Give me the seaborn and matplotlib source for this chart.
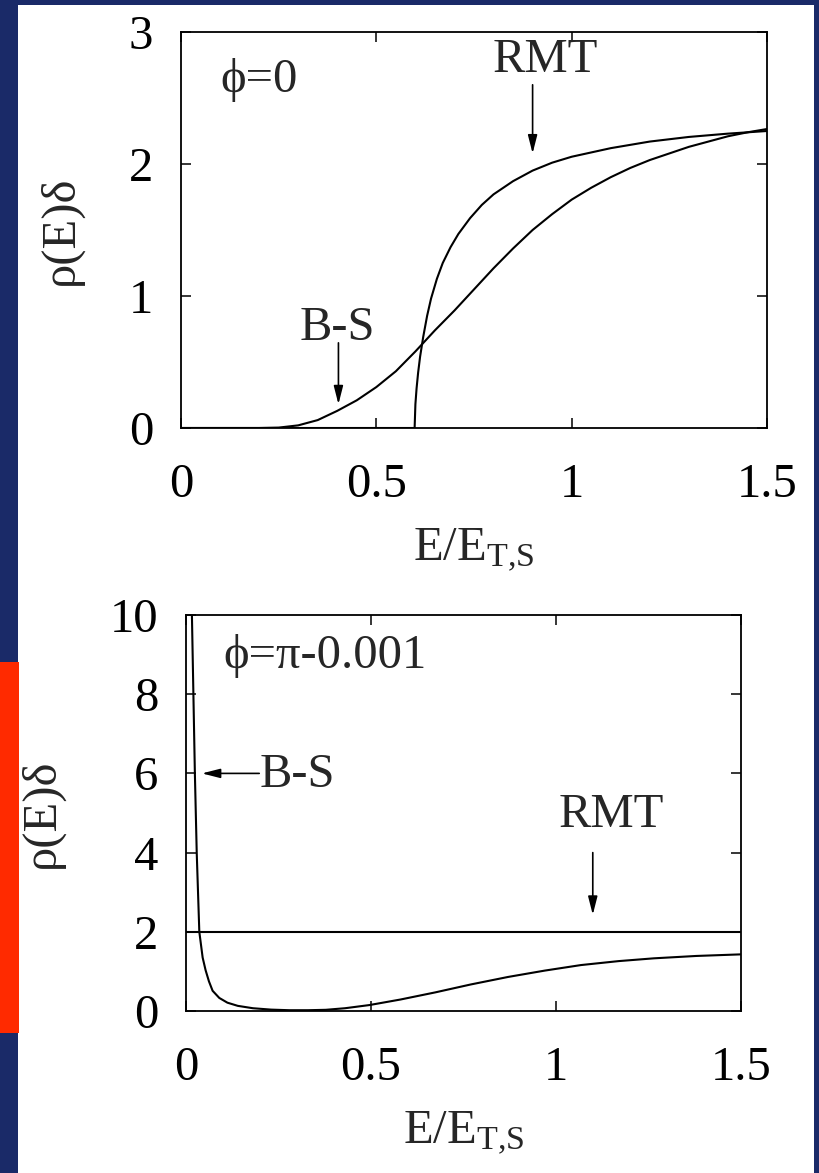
import numpy as np
import matplotlib
matplotlib.use("Agg")
import matplotlib.pyplot as plt
import matplotlib.patches as mpatches
import pandas as pd
import seaborn as sns

# phi = 0 panel, curves
top_bs_x = [0, 0.1, 0.2, 0.25, 0.3, 0.35, 0.4, 0.45, 0.5, 0.55, 0.6, 0.65, 0.7, 0.75,
            0.8, 0.85, 0.9, 0.95, 1.0, 1.05, 1.1, 1.15, 1.2, 1.25, 1.3, 1.35, 1.4, 1.45, 1.5]
top_bs_y = [0, 0, 0, 0.003, 0.02, 0.06, 0.13, 0.21, 0.31, 0.43, 0.58, 0.74, 0.89, 1.05,
            1.21, 1.36, 1.50, 1.62, 1.73, 1.82, 1.90, 1.97, 2.03, 2.08, 2.13, 2.17, 2.21, 2.24, 2.265]
top_rmt_x = [0, 0.598, 0.600, 0.603, 0.607, 0.612, 0.62, 0.63, 0.64, 0.655, 0.67, 0.69, 0.71,
             0.74, 0.77, 0.8, 0.85, 0.9, 0.95, 1.0, 1.1, 1.2, 1.3, 1.4, 1.5]
top_rmt_y = [0, 0, 0.18, 0.30, 0.42, 0.54, 0.69, 0.85, 0.98, 1.13, 1.25, 1.37, 1.47,
             1.59, 1.69, 1.77, 1.87, 1.95, 2.01, 2.055, 2.12, 2.17, 2.205, 2.23, 2.25]

# phi = pi - 0.001 panel
bot_bs_x = [0.016, 0.020, 0.024, 0.029, 0.036, 0.045, 0.053, 0.062, 0.072, 0.09, 0.112, 0.14,
            0.181, 0.23, 0.279, 0.33, 0.378, 0.43, 0.496, 0.58, 0.674, 0.77, 0.871, 0.97,
            1.068, 1.17, 1.265, 1.38, 1.5]
bot_bs_y = [10, 8.0, 6.0, 4.0, 2.0, 1.35, 1.03, 0.75, 0.51, 0.33, 0.21, 0.13,
            0.07, 0.035, 0.02, 0.02, 0.03, 0.07, 0.15, 0.29, 0.47, 0.67, 0.86, 1.02,
            1.16, 1.26, 1.33, 1.39, 1.43]
bot_rmt_x = [0, 1.5]
bot_rmt_y = [2, 2]

x_ticks = [0, 0.5, 1, 1.5]
x_ticklabels = ["0", "0.5", "1", "1.5"]
top_yticks = [0, 1, 2, 3]
bot_yticks = [0, 2, 4, 6, 8, 10]

sns.set_style("ticks")
plt.rcParams["font.family"] = ["Liberation Serif", "DejaVu Serif"]
plt.rcParams["mathtext.fontset"] = "custom"
plt.rcParams["mathtext.rm"] = "Liberation Serif"
plt.rcParams["mathtext.it"] = "Liberation Serif:italic"

FS = 35
BLUE = "#1a2a68"
RED = "#ff2a00"

fig = plt.figure(figsize=(8.19, 11.73), dpi=100)
fig.patch.set_facecolor(BLUE)
fig.patches.append(mpatches.Rectangle((18 / 819, 0), (814 - 18) / 819, (1173 - 5) / 1173,
                                      transform=fig.transFigure, facecolor="white",
                                      edgecolor="none", zorder=-3))
fig.patches.append(mpatches.Rectangle((0, 1 - 1033 / 1173), 19 / 819, (1033 - 662) / 1173,
                                      transform=fig.transFigure, facecolor=RED,
                                      edgecolor="none", zorder=-2))

ax1 = fig.add_axes([181 / 819, 1 - 428 / 1173, (767 - 181) / 819, 396 / 1173])
ax2 = fig.add_axes([186 / 819, 1 - 1011 / 1173, (740.7 - 186) / 819, 396 / 1173])

line_kw = dict(color="black", lw=1.5, estimator=None, sort=False)
sns.lineplot(x=top_bs_x, y=top_bs_y, ax=ax1, **line_kw)
sns.lineplot(x=top_rmt_x, y=top_rmt_y, ax=ax1, **line_kw)
sns.lineplot(x=bot_bs_x, y=bot_bs_y, ax=ax2, **line_kw)
sns.lineplot(x=bot_rmt_x, y=bot_rmt_y, ax=ax2, **line_kw)

arrow = dict(arrowstyle="-|>,head_length=1.1,head_width=0.28", color="black", lw=1.2,
             shrinkA=0, shrinkB=0)

for ax, yt, ylim in [(ax1, top_yticks, (0, 3)), (ax2, bot_yticks, (0, 10))]:
    ax.set_facecolor("white")
    ax.set_xlim(0, 1.5)
    ax.set_ylim(*ylim)
    ax.set_xticks(x_ticks)
    ax.set_xticklabels(x_ticklabels)
    ax.set_yticks(yt)
    ax.tick_params(direction="in", length=7, width=1.1, top=True, right=True,
                   labelsize=FS, colors="black")
    ax.tick_params(axis="x", pad=25)
    ax.tick_params(axis="y", pad=20)
    for s in ax.spines.values():
        s.set_linewidth(1.3)
        s.set_color("black")
    ax.set_xlabel(r"E/E$_{\mathrm{T{,}S}}$", fontsize=FS, labelpad=14)
    ax.set_ylabel("ρ(E)δ", fontsize=FS, labelpad=33)

# annotations, top panel
ax1.text(0.1, 2.64, "ϕ=0", fontsize=FS, va="center", ha="left")
ax1.text(0.933, 2.79, "RMT", fontsize=FS, va="center", ha="center")
ax1.annotate("", xy=(0.9, 2.08), xytext=(0.9, 2.6), arrowprops=arrow)
ax1.text(0.399, 0.76, "B-S", fontsize=FS, va="center", ha="center")
ax1.annotate("", xy=(0.403, 0.18), xytext=(0.403, 0.645), arrowprops=arrow)

# annotations, bottom panel
ax2.text(0.1, 8.97, "ϕ=π-0.001", fontsize=FS, va="center", ha="left")
ax2.text(0.2, 5.96, "B-S", fontsize=FS, va="center", ha="left")
ax2.annotate("", xy=(0.043, 6.0), xytext=(0.198, 6.0), arrowprops=arrow)
ax2.text(1.149, 4.96, "RMT", fontsize=FS, va="center", ha="center")
ax2.annotate("", xy=(1.1, 2.43), xytext=(1.1, 4.0), arrowprops=arrow)

fig.savefig("out.png", dpi=100, facecolor=fig.get_facecolor())
